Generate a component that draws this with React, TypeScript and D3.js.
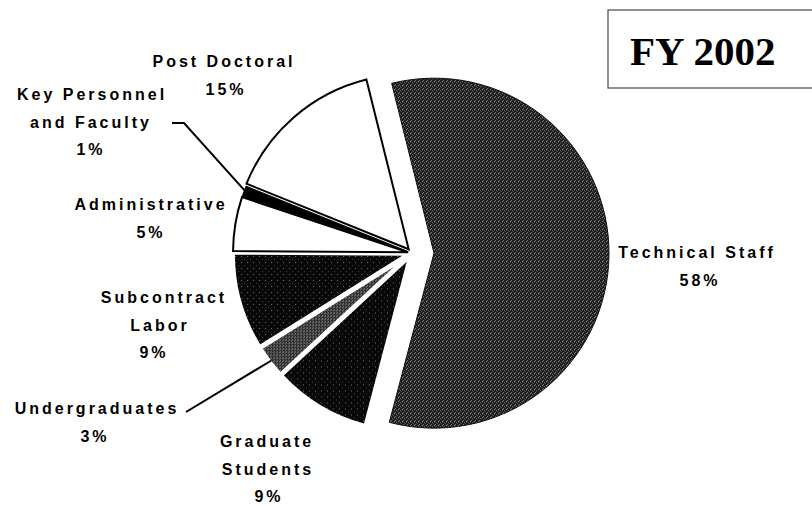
import React from "react";
import * as d3 from "d3";

const categories = [
  "Technical Staff",
  "Graduate Students",
  "Undergraduates",
  "Subcontract Labor",
  "Administrative",
  "Key Personnel and Faculty",
  "Post Doctoral",
];
const shares = [58, 9, 3, 9, 5, 1, 15];
const labelLines = [
  ["Technical Staff", "58%"],
  ["Graduate", "Students", "9%"],
  ["Undergraduates", "3%"],
  ["Subcontract", "Labor", "9%"],
  ["Administrative", "5%"],
  ["Key Personnel", "and Faculty", "1%"],
  ["Post Doctoral", "15%"],
];
const title = "FY 2002";

const W = 812;
const H = 506;
const cx = 412;
const cy = 253;
const R = 175;
const startDeg = -14;

const labelPos: { x: number[]; y: number }[] = [
  { x: [697, 700], y: 258 },
  { x: [267, 268, 269], y: 447 },
  { x: [97, 95], y: 414 },
  { x: [164, 160, 154], y: 303 },
  { x: [151, 151], y: 210 },
  { x: [92, 91, 91], y: 100 },
  { x: [224, 226], y: 67 },
];
const explode = [22, 4, 4, 4, 4, 4, 5];
const fills = [
  "url(#techPat)",
  "url(#darkPat)",
  "url(#greyPat)",
  "url(#darkPat)",
  "#ffffff",
  "#000000",
  "#ffffff",
];
const isLight = [false, false, false, false, true, false, true];
const KP = 5;

export default function App() {
  const pie = d3
    .pie<number>()
    .sort(null)
    .value((d) => d)
    .startAngle((startDeg * Math.PI) / 180)
    .endAngle(((startDeg + 360) * Math.PI) / 180);
  const arcs = pie(shares);
  const arc = d3.arc<d3.PieArcDatum<number>>().innerRadius(0).outerRadius(R);

  const offset = (a: d3.PieArcDatum<number>, d: number) => {
    const m = (a.startAngle + a.endAngle) / 2;
    return [Math.sin(m) * d, -Math.cos(m) * d];
  };
  const edgePoint = (a: d3.PieArcDatum<number>, i: number, r: number) => {
    const m = (a.startAngle + a.endAngle) / 2;
    const [ox, oy] = offset(a, explode[i]);
    return [cx + ox + Math.sin(m) * r, cy + oy - Math.cos(m) * r];
  };

  const kp = edgePoint(arcs[KP], KP, R - 2);
  const ug = edgePoint(arcs[2], 2, R - 2);

  const fontStyle: React.CSSProperties = {
    fontFamily: "'Liberation Sans', Arial, sans-serif",
    fontWeight: 700,
    fontSize: 16,
    letterSpacing: 3,
  };

  const tf = (i: number) => {
    const [ox, oy] = offset(arcs[i], explode[i]);
    return `translate(${cx + ox},${cy + oy})`;
  };

  return (
    <div style={{ position: "absolute", left: 0, top: 0, width: W, height: H }}>
      <svg width={W} height={H} viewBox={`0 0 ${W} ${H}`} style={{ display: "block", background: "#fff" }}>
        <defs>
          <pattern id="techPat" width={4} height={4} patternUnits="userSpaceOnUse">
            <rect width={4} height={4} fill="#1c1c1c" />
            <rect x={0} y={0} width={1} height={1} fill="#9a9a9a" />
            <rect x={2} y={1} width={1} height={1} fill="#6e6e6e" />
            <rect x={1} y={3} width={1} height={1} fill="#858585" />
            <rect x={3} y={2} width={1} height={1} fill="#4a4a4a" />
          </pattern>
          <pattern id="darkPat" width={6} height={6} patternUnits="userSpaceOnUse">
            <rect width={6} height={6} fill="#080808" />
            <rect x={1} y={2} width={1} height={1} fill="#7a7a7a" />
            <rect x={4} y={5} width={1} height={1} fill="#444" />
          </pattern>
          <pattern id="greyPat" width={3} height={3} patternUnits="userSpaceOnUse">
            <rect width={3} height={3} fill="#2a2a2a" />
            <rect x={0} y={0} width={1} height={1} fill="#c0c0c0" />
            <rect x={2} y={1} width={1} height={1} fill="#8a8a8a" />
          </pattern>
        </defs>

        {arcs.map((a, i) =>
          i === KP ? null : (
            <path
              key={categories[i]}
              d={arc(a) || ""}
              transform={tf(i)}
              fill={fills[i]}
              stroke={i === 0 ? "#0e0e0e" : "#fff"}
              strokeWidth={i === 0 ? 1 : 3.5}
              strokeLinejoin="miter"
            />
          )
        )}
        {arcs.map((a, i) =>
          isLight[i] ? (
            <path
              key={`o-${categories[i]}`}
              d={arc(a) || ""}
              transform={tf(i)}
              fill="none"
              stroke="#000"
              strokeWidth={2}
              strokeLinejoin="miter"
            />
          ) : null
        )}
        <path
          d={arc(arcs[KP]) || ""}
          transform={tf(KP)}
          fill={fills[KP]}
          stroke="#000"
          strokeWidth={0.8}
        />

        <polyline
          points={`172,123 184,123 ${kp[0]},${kp[1]}`}
          fill="none"
          stroke="#000"
          strokeWidth={2}
        />
        <polyline
          points={`186,412 ${ug[0]},${ug[1]}`}
          fill="none"
          stroke="#000"
          strokeWidth={2}
        />

        {labelLines.map((lines, i) =>
          lines.map((t, j) => (
            <text
              key={`${i}-${j}`}
              x={labelPos[i].x[j]}
              y={labelPos[i].y + j * 27.5}
              textAnchor="middle"
              fill="#000"
              style={fontStyle}
            >
              {t}
            </text>
          ))
        )}

        <rect x={608} y={10} width={230} height={78} fill="none" stroke="#555" strokeWidth={1.3} />
        <text
          x={630}
          y={65}
          fill="#000"
          style={{
            fontFamily: "'Liberation Serif', 'Times New Roman', serif",
            fontWeight: 700,
            fontSize: 41,
          }}
        >
          {title}
        </text>
      </svg>
    </div>
  );
}
